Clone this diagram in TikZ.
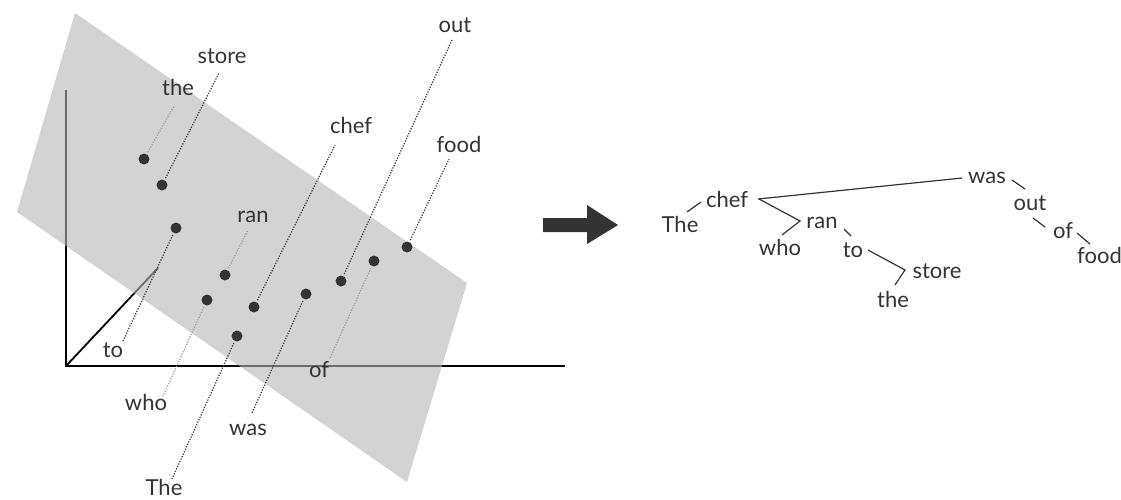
\documentclass[tikz,border=0pt]{standalone}
\usepackage{fontspec}
\setmainfont{Lato}
\definecolor{ink}{HTML}{333333}
\definecolor{planefill}{HTML}{B5B5B5}
\definecolor{lightlead}{HTML}{9A9A9A}
\begin{document}
\begin{tikzpicture}[x=1pt,y=-1pt,
  lbl/.style={font=\fontsize{22}{26}\selectfont, text=ink, inner sep=0pt, anchor=base},
  dotnode/.style={circle, fill=ink, minimum size=11pt, inner sep=0pt},
  lead/.style={draw=ink, line width=1.2pt, dash pattern=on 1.2pt off 1.5pt, shorten <=2pt},
  leadlight/.style={lead, draw=lightlead},
  axisline/.style={draw=black, line width=1.8pt},
  treeline/.style={draw=ink, line width=1.2pt},
]
\useasboundingbox (0,0) rectangle (1121,499);

% axes
\coordinate (O) at (66,366);
\coordinate (Ytop) at (66,90);
\coordinate (Xend) at (565,366);
\coordinate (Zend) at (158,268);
\draw[axisline] (Ytop) -- (O) -- (Xend);
\draw[axisline] (O) -- (Zend);

% plane
\fill[planefill, opacity=0.6] (75,13) -- (467,283) -- (407,482) -- (17,212) -- cycle;

% dots
\node[dotnode] (dthe)   at (144,159) {};
\node[dotnode] (dstore) at (162,185) {};
\node[dotnode] (dto)    at (176,228) {};
\node[dotnode] (dran)   at (225,275) {};
\node[dotnode] (dwho)   at (207,300) {};
\node[dotnode] (dchef)  at (254,307) {};
\node[dotnode] (dThe)   at (237,336) {};
\node[dotnode] (dwas)   at (306,294) {};
\node[dotnode] (dout)   at (341,281) {};
\node[dotnode] (dof)    at (374,261) {};
\node[dotnode] (dfood)  at (407,247) {};

% labels
\node[lbl] (lthe)   at (178,95)  {the};
\node[lbl] (lstore) at (222,63)  {store};
\node[lbl] (lto)    at (113,357) {to};
\node[lbl] (lran)   at (253,222) {ran};
\node[lbl] (lchef)  at (351,133) {chef};
\node[lbl] (lout)   at (455,32)  {out};
\node[lbl] (lfood)  at (459,152) {food};
\node[lbl] (lwho)   at (146,410) {who};
\node[lbl] (lThe)   at (164,495) {The};
\node[lbl] (lwas)   at (248,435) {was};
\node[lbl] (lof)    at (319,377) {of};

% leader ends
\coordinate (ethe)   at (174,106);
\coordinate (estore) at (219,73);
\coordinate (eto)    at (123,341);
\coordinate (eran)   at (248,230);
\coordinate (echef)  at (335,145);
\coordinate (eout)   at (452,40);
\coordinate (efood)  at (449,159);
\coordinate (ewho)   at (163,396);
\coordinate (eThe)   at (172,479);
\coordinate (ewas)   at (252,413);
\coordinate (eof)    at (330,358);

\draw[leadlight] (dthe) -- (ethe);
\draw[lead] (dstore) -- (estore);
\draw[lead] (dto) -- (eto);
\draw[leadlight] (dran) -- (eran);
\draw[lead] (dchef) -- (echef);
\draw[lead] (dout) -- (eout);
\draw[lead] (dfood) -- (efood);
\draw[leadlight] (dwho) -- (ewho);
\draw[lead] (dThe) -- (eThe);
\draw[lead] (dwas) -- (ewas);
\draw[leadlight] (dof) -- (eof);

% big arrow
\fill[ink] (543,218) -- (587,218) -- (587,205) -- (618,225) -- (587,244) -- (587,232) -- (543,232) -- cycle;

% tree words
\node[lbl] (tThe)   at (680,232)  {The};
\node[lbl] (tchef)  at (727,207)  {chef};
\node[lbl] (tran)   at (822,228)  {ran};
\node[lbl] (twho)   at (780,255)  {who};
\node[lbl] (tto)    at (853,257)  {to};
\node[lbl] (tstore) at (937,278)  {store};
\node[lbl] (tthe)   at (893,307)  {the};
\node[lbl] (twas)   at (987,183)  {was};
\node[lbl] (tout)   at (1030,210) {out};
\node[lbl] (tof)    at (1063,238) {of};
\node[lbl, anchor=base west] (tfood) at (1077,263) {food};

% tree connector points
\coordinate (c1a) at (687,212); \coordinate (c1b) at (701,202);
\coordinate (c2a) at (758,199); \coordinate (c2b) at (962,178);
\coordinate (c3a) at (759,199); \coordinate (c3v) at (800,221); \coordinate (c3b) at (782,235);
\coordinate (c4a) at (844,229); \coordinate (c4b) at (851,236);
\coordinate (c5a) at (868,250); \coordinate (c5v) at (905,270); \coordinate (c5b) at (895,285);
\coordinate (c6a) at (1012,180); \coordinate (c6b) at (1025,189);
\coordinate (c7a) at (1033,218); \coordinate (c7b) at (1045,227);
\coordinate (c8a) at (1077,233); \coordinate (c8b) at (1090,244);

\draw[treeline] (c1a) -- (c1b);
\draw[treeline] (c2a) -- (c2b);
\draw[treeline] (c3a) -- (c3v) -- (c3b);
\draw[treeline] (c4a) -- (c4b);
\draw[treeline] (c5a) -- (c5v) -- (c5b);
\draw[treeline] (c6a) -- (c6b);
\draw[treeline] (c7a) -- (c7b);
\draw[treeline] (c8a) -- (c8b);
\end{tikzpicture}
\end{document}
